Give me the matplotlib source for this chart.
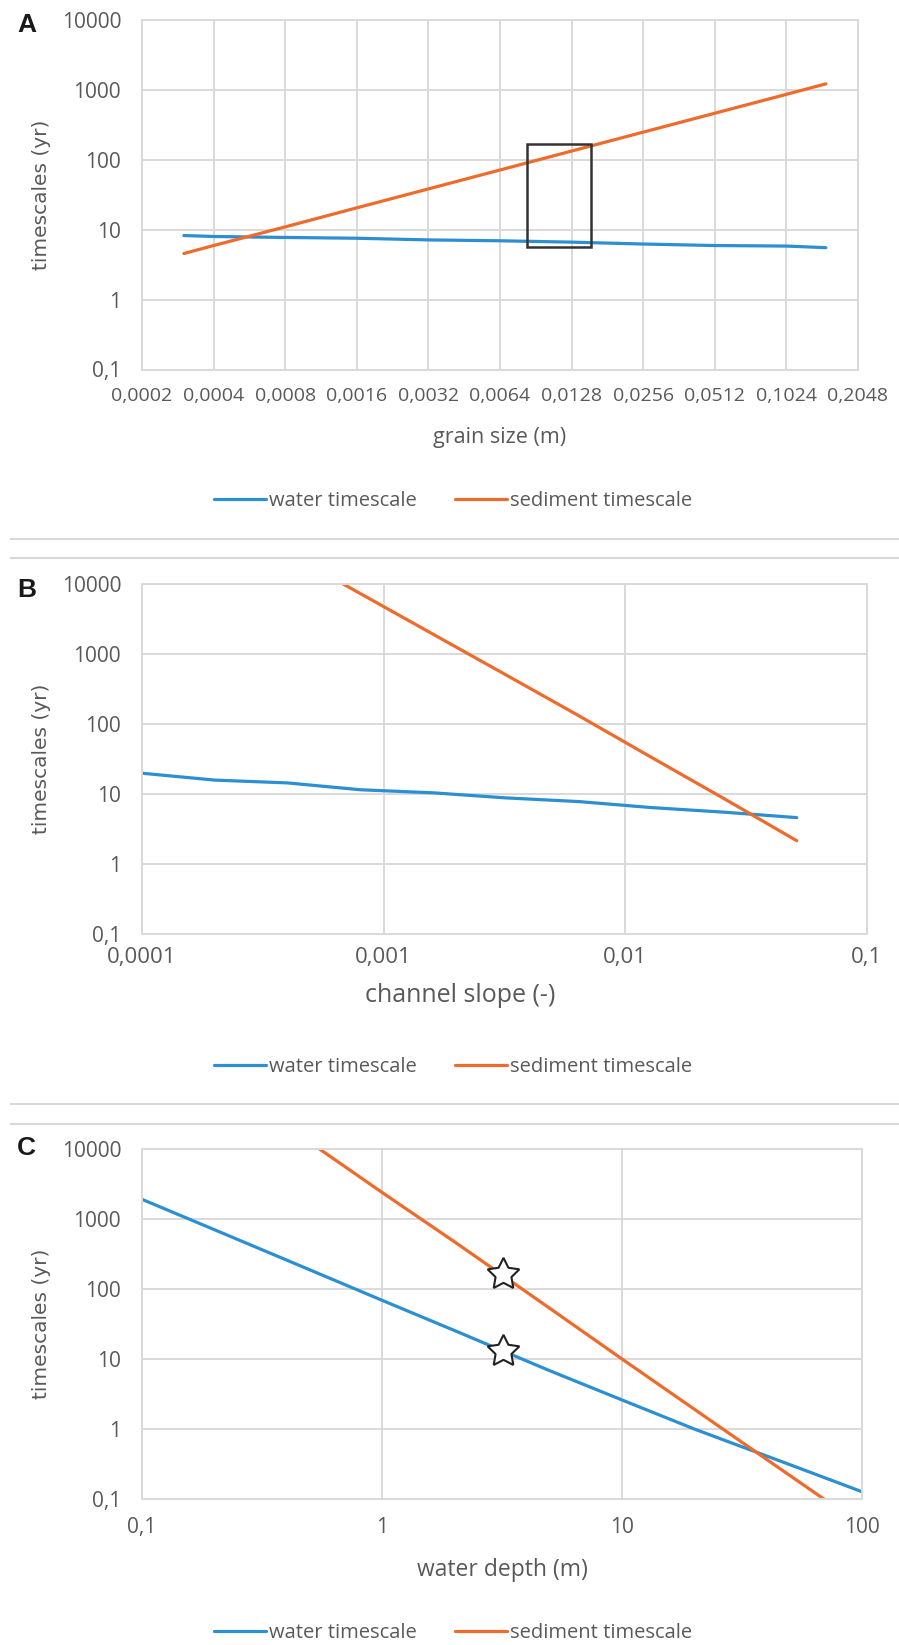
import matplotlib
matplotlib.use('Agg')
import matplotlib.pyplot as plt
from matplotlib.lines import Line2D
from matplotlib.patches import Rectangle

W, H, DPI = 899, 1645, 100
plt.rcParams['font.family'] = ['Open Sans', 'DejaVu Sans']

# ---------------- data ----------------
series_names = ['water timescale', 'sediment timescale']
time_ticks = [0.1, 1, 10, 100, 1000, 10000]
time_tick_labels = ['0,1', '1', '10', '100', '1000', '10000']

# Panel A: grain size
grain_size = [0.0003, 0.0004, 0.0008, 0.0016, 0.0032, 0.0064, 0.0128, 0.0256, 0.0512, 0.1024, 0.15]
grain_water = [8.2, 7.95, 7.7, 7.5, 7.1, 6.9, 6.6, 6.2, 5.9, 5.8, 5.5]
grain_sediment = [4.54, 5.9, 10.9, 20.4, 38.0, 70.8, 132, 246, 458, 853, 1203]
grain_ticks = [0.0002, 0.0004, 0.0008, 0.0016, 0.0032, 0.0064, 0.0128, 0.0256, 0.0512, 0.1024, 0.2048]
grain_tick_labels = ['0,0002', '0,0004', '0,0008', '0,0016', '0,0032', '0,0064',
                     '0,0128', '0,0256', '0,0512', '0,1024', '0,2048']
box_grain = [0.0083, 0.0155]
box_time = [5.6, 165]

# Panel B: channel slope
slope = [0.0001, 0.0002, 0.0004, 0.0008, 0.0016, 0.0032, 0.0064, 0.0128, 0.0256, 0.0512]
slope_water = [19.8, 15.8, 14.4, 11.5, 10.4, 8.8, 7.8, 6.4, 5.5, 4.6]
slope_sediment = [405000, 106000, 27900, 7310, 1920, 505, 132, 33.5, 8.6, 2.15]
slope_ticks = [0.0001, 0.001, 0.01, 0.1]
slope_tick_labels = ['0,0001', '0,001', '0,01', '0,1']

# Panel C: water depth
depth = [0.1, 0.2, 0.5, 1, 2, 5, 10, 20, 50, 100]
depth_water = [1910, 705, 188, 69, 25.6, 6.8, 2.6, 1.0, 0.31, 0.127]
depth_sediment = [575000, 111000, 12500, 2400, 475, 53, 10, 1.92, 0.217, 0.042]
depth_ticks = [0.1, 1, 10, 100]
depth_tick_labels = ['0,1', '1', '10', '100']
star_depth = [3.2, 3.2]
star_time = [162, 13]

BLUE = '#2b8fd1'
ORANGE = '#ee6b2b'
GRID = '#d9d9d9'
TXT = '#595959'

fig = plt.figure(figsize=(W / DPI, H / DPI), dpi=DPI)


def add_ax(l, t, r, b):
    return fig.add_axes([l / W, 1 - b / H, (r - l) / W, (b - t) / H])


def setup(ax, base, xlim, xticks, xlabels, xpad, xsize):
    ax.set_xscale('log', base=base)
    ax.set_yscale('log')
    ax.set_xlim(*xlim)
    ax.set_ylim(0.1, 10000)
    ax.set_xticks(xticks, xlabels)
    ax.set_yticks(time_ticks, time_tick_labels)
    ax.minorticks_off()
    ax.grid(True, color=GRID, lw=1.4)
    ax.set_axisbelow(True)
    for s in ax.spines.values():
        s.set_color(GRID)
        s.set_linewidth(1.4)
    ax.tick_params(axis='both', length=0, labelcolor=TXT)
    ax.tick_params(axis='y', pad=15, labelsize=15)
    ax.tick_params(axis='x', pad=xpad, labelsize=xsize)


def legend(cy, handles):
    fig.legend(handles, series_names, loc='center', bbox_to_anchor=(453 / W, 1 - cy / H),
               ncol=2, frameon=False, handlelength=2.6, handletextpad=0.15,
               columnspacing=1.9, fontsize=14.5, labelcolor=TXT)


def ylabel(cy):
    fig.text(42 / W, 1 - cy / H, 'timescales (yr)', rotation=90, ha='center', va='center',
             fontsize=14.5, color=TXT, family=['DejaVu Sans'])


def letter(x, y, s):
    fig.text(x / W, 1 - y / H, s, ha='center', va='center', fontsize=19, fontweight='bold',
             color='#1a1a1a', family=['Liberation Sans', 'DejaVu Sans'])


# ---------------- Panel A ----------------
axA = add_ax(142, 19.5, 858, 369.5)
setup(axA, 2, (grain_ticks[0], grain_ticks[-1]), grain_ticks, grain_tick_labels, 12.5, 14)
hA1, = axA.plot(grain_size, grain_water, color=BLUE, lw=2.3, solid_capstyle='round')
hA2, = axA.plot(grain_size, grain_sediment, color=ORANGE, lw=2.3, solid_capstyle='round')
axA.add_patch(Rectangle((box_grain[0], box_time[0]), box_grain[1] - box_grain[0],
                        box_time[1] - box_time[0], fill=False, ec='#333333', lw=1.8, zorder=5))
fig.text(500 / W, 1 - 438 / H, 'grain size (m)', ha='center', va='center', fontsize=15.5, color=TXT)
legend(501, [hA1, hA2])
ylabel(195)
letter(27, 25, 'A')

# ---------------- Panel B ----------------
axB = add_ax(142, 584, 867, 934)
setup(axB, 10, (slope_ticks[0], slope_ticks[-1]), slope_ticks, slope_tick_labels, 9, 16)
hB1, = axB.plot(slope, slope_water, color=BLUE, lw=2.3, solid_capstyle='round')
hB2, = axB.plot(slope, slope_sediment, color=ORANGE, lw=2.3, solid_capstyle='round')
fig.text(460 / W, 1 - 996 / H, 'channel slope (-)', ha='center', va='center', fontsize=18, color=TXT)
legend(1067, [hB1, hB2])
ylabel(759)
letter(27, 590, 'B')

# ---------------- Panel C ----------------
axC = add_ax(142, 1149, 862, 1499)
setup(axC, 10, (depth_ticks[0], depth_ticks[-1]), depth_ticks, depth_tick_labels, 13, 15)
hC1, = axC.plot(depth, depth_water, color=BLUE, lw=2.3, solid_capstyle='round')
hC2, = axC.plot(depth, depth_sediment, color=ORANGE, lw=2.3, solid_capstyle='round')
axC.plot(star_depth, star_time, ls='none', marker=(5, 1, 0), ms=24, mfc='white',
         mec='#222222', mew=1.5, zorder=6)
fig.text(502 / W, 1 - 1570 / H, 'water depth (m)', ha='center', va='center', fontsize=16.5, color=TXT)
legend(1633, [hC1, hC2])
ylabel(1324)
letter(26, 1148, 'C')

# separators
for y in (539.5, 557.5, 1103.5, 1124):
    fig.add_artist(Line2D([11 / W, 1], [1 - y / H, 1 - y / H], color=GRID, lw=1.5))

fig.savefig('out.png', dpi=DPI)
